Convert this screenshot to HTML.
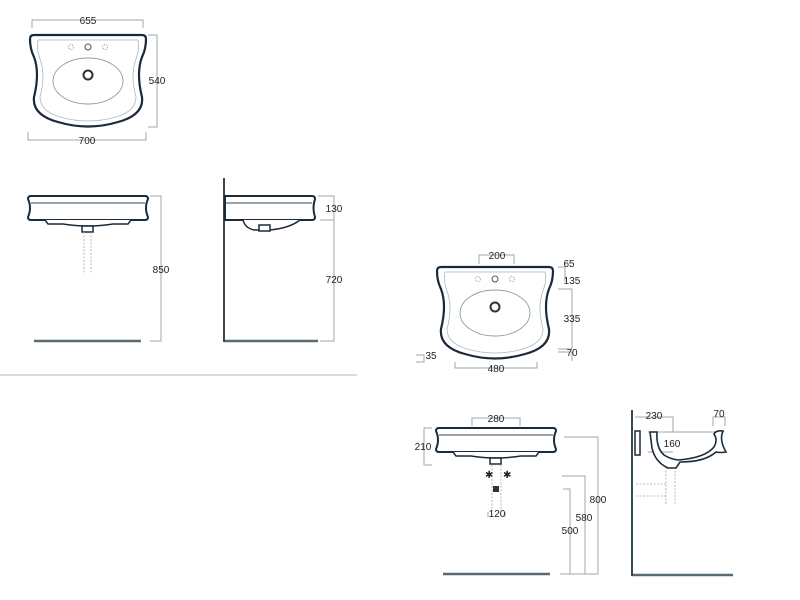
<!DOCTYPE html>
<html><head><style>html,body{margin:0;padding:0;background:#fff;width:800px;height:600px;overflow:hidden}svg{display:block}text{font-family:"Liberation Sans",sans-serif;font-size:10px;fill:#222}</style></head>
<body>
<svg width="800" height="600" viewBox="0 0 800 600">
<defs>
<g id="top">
<path d="M4,0 L112,0 Q116,0 116,4 Q116,14 112,22 Q106,38 112,62 Q114,80 88,87 Q58,96 28,87 Q2,80 4,62 Q10,38 4,22 Q0,14 0,4 Q0,0 4,0 Z" fill="#fff" stroke="#1a2a3a" stroke-width="2.2"/>
<path d="M8,5 L108,5 Q110,12 106,24 Q100,40 106,62 Q106,76 86,82 Q58,90 30,82 Q10,76 10,62 Q16,40 10,24 Q6,12 8,5 Z" fill="none" stroke="#aab8c0" stroke-width="0.8"/>
<ellipse cx="58" cy="46" rx="35" ry="23" fill="none" stroke="#8aa0ac" stroke-width="0.9"/>
<circle cx="58" cy="40" r="4.5" fill="#fff" stroke="#333" stroke-width="2"/>
<circle cx="58" cy="12" r="3" fill="none" stroke="#555" stroke-width="1"/>
<circle cx="41" cy="12" r="2.5" fill="none" stroke="#999" stroke-width="0.8" stroke-dasharray="1.5 1"/>
<circle cx="75" cy="12" r="2.5" fill="none" stroke="#999" stroke-width="0.8" stroke-dasharray="1.5 1"/>
</g>
<g id="front">
<path d="M3,0 L117,0 Q120,0 120,3 Q116,12 120,21 Q120,24 117,24 L3,24 Q0,24 0,21 Q4,12 0,3 Q0,0 3,0 Z" fill="#fff" stroke="#1a2a3a" stroke-width="2"/>
<line x1="3" y1="7" x2="117" y2="7" stroke="#3a4a55" stroke-width="1"/>
<path d="M17,24 L20,28 L35,28 Q60,32 85,28 L100,28 L103,24" fill="#fff" stroke="#1a2a3a" stroke-width="1.5"/>
<rect x="54" y="30" width="11" height="6" fill="#fff" stroke="#1a2a3a" stroke-width="1.5"/>
</g>
</defs>
<g stroke="#9aaab2" stroke-width="1" fill="none">
<path d="M32,28 V20 H143 V28"/>
<path d="M148,35 H157 V127 H148"/>
<path d="M28,132 V140 H146 V132"/>
<path d="M150,196 H161 V341 H150"/>
<path d="M318,196 H334 V341 H320"/>
<path d="M320,220 H334"/>
<path d="M479,264 V255 H514 V264"/>
<path d="M558,267 H565 V282 M558,289 H572 V349 H558 M558,352 H572 V361 M565,262 V267"/>
<path d="M416,355 H424 V362 H416"/>
<path d="M455,362 V368 H537 V362"/>
<path d="M472,426 V418 H520 V426"/>
<path d="M432,428 H424 V465 H432"/>
<path d="M564,437 H598 V574 H560"/>
<path d="M562,476 H585 V574"/>
<path d="M563,489 H570 V574"/>
<path d="M488,517 V512 M505,517 V512"/>
<path d="M635,417 H673 V432 M713,426 V417 H725 V426"/>
<path d="M648,432 H724 M648,452 H673"/>
</g>
<line x1="0" y1="375" x2="357" y2="375" stroke="#c4d0d4" stroke-width="1.5"/>
<use href="#top" x="30" y="35"/>
<use href="#top" x="437" y="267"/>
<use href="#front" x="28" y="196"/>
<use href="#front" x="436" y="428"/>
<g stroke="#aaa" stroke-width="0.8" fill="none" stroke-dasharray="2 1.5">
<path d="M84,232 V273 M91,232 V273"/>
<path d="M492,465 V515 M501,465 V515"/>
<path d="M666,460 V505 M675,460 V505 M636,484 H666 M636,496 H666"/>
</g>
<rect x="493" y="486" width="6" height="6" fill="#333"/>
<text x="485" y="478" font-size="8">✱</text><text x="503" y="478" font-size="8">✱</text>
<g stroke="#5a6a72" stroke-width="2.5">
<line x1="34" y1="341" x2="141" y2="341"/>
<line x1="224" y1="341" x2="318" y2="341"/>
<line x1="443" y1="574" x2="550" y2="574"/>
<line x1="632" y1="575" x2="733" y2="575"/>
</g>
<g stroke="#3a4a55" stroke-width="2">
<line x1="224" y1="178" x2="224" y2="342"/>
<line x1="632" y1="410" x2="632" y2="576"/>
</g>
<path d="M225,196 L312,196 Q315,196 315,199 Q312,208 315,217 Q315,220 312,220 L225,220 Z" fill="#fff" stroke="#1a2a3a" stroke-width="2"/>
<line x1="225" y1="203" x2="312" y2="203" stroke="#3a4a55"/>
<path d="M243,220 Q245,228 254,230 L270,230 Q290,228 300,220" fill="#fff" stroke="#1a2a3a" stroke-width="1.5"/>
<rect x="259" y="225" width="11" height="6" fill="#fff" stroke="#1a2a3a" stroke-width="1.5"/>
<path d="M635,431 H640 V455 H635 Z" fill="#fff" stroke="#1a2a3a" stroke-width="1.5"/>
<path d="M650,432 H657 Q656,448 664,455 Q670,459 678,460 Q705,458 714,447 Q718,440 714,434 Q716,430 723,431 Q719,440 726,452 Q720,453 716,452 Q705,462 680,462 L676,468 L668,468 Q655,462 652,448 Z" fill="#fff" stroke="#1a2a3a" stroke-width="1.6"/>
<g text-anchor="middle">
<text x="88" y="24">655</text>
<text x="157" y="84">540</text>
<text x="87" y="144">700</text>
<text x="161" y="273">850</text>
<text x="334" y="212">130</text>
<text x="334" y="283">720</text>
<text x="497" y="259">200</text>
<text x="569" y="267">65</text>
<text x="572" y="284">135</text>
<text x="572" y="322">335</text>
<text x="572" y="356">70</text>
<text x="431" y="359">35</text>
<text x="496" y="372">480</text>
<text x="496" y="422">280</text>
<text x="423" y="450">210</text>
<text x="497" y="517">120</text>
<text x="598" y="503">800</text>
<text x="584" y="521">580</text>
<text x="570" y="534">500</text>
<text x="654" y="419">230</text>
<text x="719" y="417">70</text>
<text x="672" y="447">160</text>
</g>
</svg>
</body></html>
